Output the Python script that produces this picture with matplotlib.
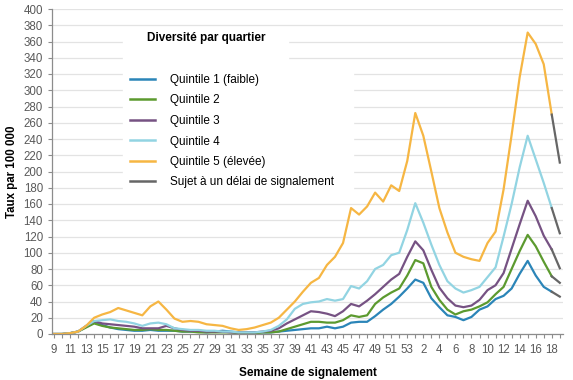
import numpy as np
import matplotlib
matplotlib.use("Agg")
import matplotlib.pyplot as plt
from matplotlib.lines import Line2D
from matplotlib.patches import Rectangle

plt.rcParams['font.family'] = ['Liberation Sans', 'DejaVu Sans']

# semaines 9-53 (2020) puis 1-19 (2021)
semaines = list(range(9, 54)) + list(range(1, 20))

q1 = [0, 0, 1, 3, 9, 14, 11, 8, 6, 5, 4, 4, 5, 4, 4, 4, 3, 3, 3, 2, 3, 4, 3, 2, 2,
      2, 2, 2, 3, 4, 5, 6, 7, 7, 9, 7, 9, 14, 15, 15, 22, 30, 37, 46, 56,
      67, 63, 44, 33, 23, 21, 17, 21, 30, 34, 43, 47, 56, 74, 90, 72, 58, 52, 46]
q2 = [0, 0, 1, 3, 8, 13, 10, 8, 7, 6, 5, 5, 6, 5, 5, 4, 3, 3, 2, 2, 2, 2, 2, 1, 1,
      1, 2, 2, 3, 6, 9, 12, 15, 15, 14, 14, 17, 23, 21, 23, 37, 45, 51, 56, 72,
      91, 87, 58, 42, 30, 24, 28, 30, 34, 39, 49, 58, 80, 102, 122, 108, 89, 71, 63]
q3 = [0, 0, 1, 3, 10, 16, 13, 12, 11, 10, 9, 7, 7, 7, 10, 7, 5, 4, 4, 3, 3, 3, 2, 2, 2,
      2, 3, 4, 7, 13, 18, 23, 28, 27, 25, 22, 28, 37, 34, 41, 49, 58, 67, 74, 95,
      114, 103, 79, 57, 44, 35, 33, 35, 42, 54, 60, 75, 105, 135, 164, 145, 121, 104, 81]
q4 = [0, 0, 1, 3, 10, 16, 17, 18, 16, 15, 13, 10, 13, 14, 12, 7, 6, 5, 5, 4, 4, 3, 3, 2, 2,
      2, 3, 5, 10, 18, 31, 37, 39, 40, 43, 41, 43, 59, 56, 65, 80, 85, 97, 100, 128,
      161, 137, 110, 85, 65, 56, 51, 54, 58, 70, 82, 120, 160, 205, 244, 215, 186, 155, 124]
q5 = [0, 0, 1, 3, 10, 20, 24, 27, 32, 29, 26, 23, 34, 40, 30, 19, 15, 16, 15, 12, 11, 10, 7, 5, 6,
      8, 11, 14, 20, 30, 40, 52, 63, 69, 85, 95, 112, 155, 147, 157, 174, 163, 183, 176, 213,
      272, 244, 200, 155, 125, 100, 95, 92, 90, 112, 126, 178, 245, 316, 371, 357, 332, 270, 211]

series = [q1, q2, q3, q4, q5]
noms = ["Quintile 1 (faible)", "Quintile 2", "Quintile 3", "Quintile 4", "Quintile 5 (élevée)"]
couleurs = ["#2b85b8", "#5c9a2f", "#765283", "#92d4e2", "#f6b643"]
gris = "#666666"

fig = plt.figure(figsize=(5.73, 3.8), dpi=100)
ax = fig.add_axes([52 / 573, 1 - 334 / 380, 511 / 573, 325 / 380])

x = np.arange(len(semaines))
n = len(semaines)
for vals, c in zip(series, couleurs):
    ax.plot(x[:n - 1], vals[:n - 1], color=c, lw=1.6, solid_joinstyle='round')
for vals in series:
    # dernière semaine : sujet à un délai de signalement
    ax.plot(x[n - 2:], vals[n - 2:], color=gris, lw=1.6)

ax.set_xlim(-0.25, n - 0.6)
ax.set_ylim(0, 400)
ax.set_yticks(range(0, 401, 20))
ax.set_xticks(x)
ax.set_xticklabels([str(s) if i % 2 == 0 else "" for i, s in enumerate(semaines)])
ax.tick_params(axis='both', colors='#8c8c8c', labelcolor='#595959', labelsize=8.3,
               length=3, width=0.8)
ax.tick_params(axis='x', pad=4)
for s in ['top', 'right']:
    ax.spines[s].set_visible(False)
for s in ['left', 'bottom']:
    ax.spines[s].set_color('#8c8c8c')
    ax.spines[s].set_linewidth(0.9)
ax.yaxis.grid(True, color='#e3e3e3', lw=0.9)
ax.set_axisbelow(True)

ax.set_ylabel("Taux par 100 000", fontsize=8.3, fontweight='bold', labelpad=4)
ax.set_xlabel("Semaine de signalement", fontsize=8.5, fontweight='bold', labelpad=8)

# caches blancs derrière le titre et la légende
ax.add_patch(Rectangle((123 / 573, 1 - 62 / 380), 165 / 573, 32 / 380,
                       transform=fig.transFigure, color='white', zorder=1))
ax.add_patch(Rectangle((123 / 573, 1 - 198 / 380), 230 / 573, 136 / 380,
                       transform=fig.transFigure, color='white', zorder=1))

fig.text(147 / 573, 1 - 38 / 380, "Diversité par quartier", fontsize=8.5,
         fontweight='bold', va='center', ha='left')

handles = [Line2D([], [], color=c, lw=1.8) for c in couleurs]
handles.append(Line2D([], [], color=gris, lw=1.8))
labels = noms + ["Sujet à un délai de signalement"]
ax.legend(handles, labels, loc='upper left', bbox_to_anchor=(130 / 573, 1 - 74 / 380),
          bbox_transform=fig.transFigure, frameon=False, fontsize=8.5,
          handlelength=2.1, handletextpad=1.3, labelspacing=0.72,
          borderpad=0, borderaxespad=0)

fig.savefig("out.png", dpi=100)
